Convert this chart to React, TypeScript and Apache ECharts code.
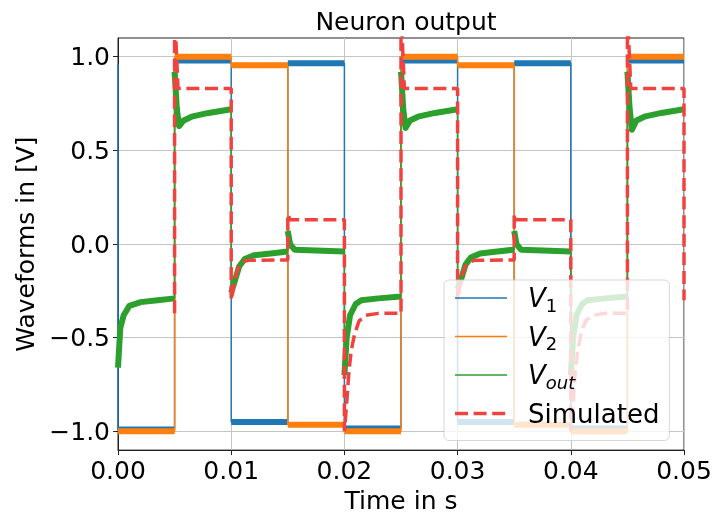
import React, { useEffect, useRef } from 'react';
import * as echarts from 'echarts';

const FONT = 'DejaVu Sans';

const xTicks = [0, 0.01, 0.02, 0.03, 0.04, 0.05];
const yTicks = [-1.0, -0.5, 0.0, 0.5, 1.0];
const seriesNames = ['V1', 'V2', 'Vout', 'Simulated'];

// [time (s), voltage (V)]
const v1: [number, number][] = [
  [0, 0.96], [0, -0.99], [0.005, -0.99], [0.005, 0.98], [0.01, 0.98], [0.01, -0.95],
  [0.015, -0.95], [0.015, 0.965], [0.02, 0.965], [0.02, -0.985], [0.025, -0.985], [0.025, 0.98],
  [0.03, 0.98], [0.03, -0.95], [0.035, -0.95], [0.035, 0.965], [0.04, 0.965], [0.04, -0.985],
  [0.045, -0.985], [0.045, 0.98], [0.05, 0.98],
];

const v2: [number, number][] = [
  [0, -1.0], [0.005, -1.0], [0.005, 1.0], [0.01, 1.0], [0.01, 0.955], [0.015, 0.955],
  [0.015, -0.965], [0.02, -0.965], [0.02, -1.0], [0.025, -1.0], [0.025, 1.0], [0.03, 1.0],
  [0.03, 0.955], [0.035, 0.955], [0.035, -0.965], [0.04, -0.965], [0.04, -1.0], [0.045, -1.0],
  [0.045, 1.0], [0.05, 1.0],
];

const vout: [number, number][] = [
  [0, -0.66], [0.0002, -0.45], [0.0005, -0.38], [0.001, -0.33], [0.002, -0.31], [0.0035, -0.3], [0.005, -0.29],
  [0.005, 0.92], [0.0052, 0.72], [0.0054, 0.63], [0.0058, 0.66], [0.0065, 0.68], [0.008, 0.7], [0.01, 0.72],
  [0.01, -0.26], [0.0103, -0.2], [0.0107, -0.12], [0.0112, -0.08], [0.012, -0.06], [0.0135, -0.05], [0.015, -0.04],
  [0.015, 0.07], [0.0152, 0.0], [0.0156, -0.03], [0.02, -0.04],
  [0.02, -0.7], [0.0202, -0.5], [0.0205, -0.38], [0.021, -0.32], [0.0215, -0.3], [0.023, -0.29], [0.025, -0.28],
  [0.025, 0.92], [0.0252, 0.72], [0.0254, 0.62], [0.0258, 0.66], [0.0265, 0.68], [0.028, 0.7], [0.03, 0.72],
  [0.03, -0.24], [0.0303, -0.19], [0.0307, -0.11], [0.0312, -0.07], [0.032, -0.05], [0.0335, -0.04], [0.035, -0.03],
  [0.035, 0.07], [0.0352, 0.0], [0.0356, -0.03], [0.04, -0.04],
  [0.04, -0.7], [0.0402, -0.5], [0.0405, -0.38], [0.041, -0.32], [0.0415, -0.3], [0.043, -0.29], [0.045, -0.28],
  [0.045, 0.92], [0.0452, 0.72], [0.0454, 0.61], [0.0458, 0.66], [0.0465, 0.68], [0.048, 0.7], [0.05, 0.72],
];

const simulated: [number, number][] = [
  [0.005, -0.37], [0.005, 1.25], [0.0053, 0.83], [0.01, 0.83],
  [0.01, -0.3], [0.0103, -0.2], [0.0106, -0.13], [0.011, -0.095], [0.0115, -0.087], [0.015, -0.085],
  [0.015, 0.16], [0.0152, 0.13], [0.02, 0.13],
  [0.02, -1.0], [0.0202, -0.85], [0.0204, -0.68], [0.0206, -0.57], [0.0209, -0.48], [0.0213, -0.41], [0.0219, -0.38], [0.023, -0.37], [0.025, -0.37],
  [0.025, 1.25], [0.0253, 0.83], [0.03, 0.83],
  [0.03, -0.3], [0.0303, -0.2], [0.0306, -0.13], [0.031, -0.095], [0.0315, -0.087], [0.035, -0.085],
  [0.035, 0.16], [0.0352, 0.13], [0.04, 0.13],
  [0.04, -1.0], [0.0402, -0.85], [0.0404, -0.68], [0.0406, -0.57], [0.0409, -0.48], [0.0413, -0.41], [0.0419, -0.38], [0.043, -0.37], [0.045, -0.37],
  [0.045, 1.25], [0.0453, 0.83], [0.05, 0.83], [0.05, -0.3],
];

const colors = { V1: '#1f77b4', V2: '#ff7f0e', Vout: '#2ca02c', Simulated: '#f0433f' };

// legend handles: a thin solid line and a thick dashed line inside a 52x4 box
const solidHandle = 'path://M0,0h0.05v0.05h-0.05z M0,1.2h52v1.6h-52z M51.95,3.95h0.05v0.05h-0.05z';
const dashedHandle = 'path://M0,0h0.05v0.05h-0.05z M0,0.25h13v3.5h-13z M18.6,0.25h13v3.5h-13z M37.2,0.25h13v3.5h-13z M51.95,3.95h0.05v0.05h-0.05z';

// break the line at vertical jumps so that only the noisy plateaus get a wide stroke
function band(pts: [number, number][]) {
  const out: any[] = [];
  pts.forEach((p, i) => {
    if (i > 0 && p[0] === pts[i - 1][0]) out.push([p[0], '-']);
    out.push(p);
  });
  return out;
}

export default function App() {
  const ref = useRef<HTMLDivElement>(null);
  useEffect(() => {
    if (!ref.current) return;
    const chart = echarts.init(ref.current, undefined, { renderer: 'svg' });
    const thin = (name: string, data: [number, number][]) => ({
      name, type: 'line', data, showSymbol: false, symbol: 'none',
      lineStyle: { color: (colors as any)[name], width: 1.5 }, itemStyle: { color: (colors as any)[name] },
      emphasis: { disabled: true }, silent: true,
    });
    const thick = (name: string, data: [number, number][]) => ({
      name: name + ' noise', type: 'line', data: band(data), showSymbol: false, symbol: 'none',
      connectNulls: false,
      lineStyle: { color: (colors as any)[name], width: 6, join: 'round' },
      emphasis: { disabled: true }, silent: true,
    });
    const option: any = {
      animation: false,
      textStyle: { fontFamily: FONT },
      title: {
        text: 'Neuron output', left: 401, top: 4, textAlign: 'center',
        textStyle: { fontFamily: FONT, fontSize: 25, fontWeight: 'normal', color: '#000' },
      },
      grid: { left: 118, top: 38, right: 31, bottom: 64, show: true, borderColor: '#222', borderWidth: 1, backgroundColor: 'transparent' },
      xAxis: {
        type: 'value', min: 0, max: 0.05,
        name: 'Time in s', nameLocation: 'middle', nameGap: 28,
        nameTextStyle: { fontFamily: FONT, fontSize: 25, color: '#000' },
        axisLine: { show: true, onZero: false, lineStyle: { color: '#222', width: 1 } },
        axisTick: { show: true, inside: false, length: 5, customValues: xTicks, lineStyle: { color: '#222' } },
        axisLabel: { customValues: xTicks, margin: 8, fontFamily: FONT, fontSize: 25, color: '#000', formatter: (v: number) => v.toFixed(2) },
        splitLine: { show: true, lineStyle: { color: '#c4c4c4', width: 1 } },
      },
      yAxis: {
        type: 'value', min: -1.1, max: 1.1,
        name: 'Waveforms in [V]', nameLocation: 'middle', nameGap: 76, nameRotate: 90,
        nameTextStyle: { fontFamily: FONT, fontSize: 25, color: '#000' },
        axisLine: { show: true, onZero: false, lineStyle: { color: '#222', width: 1 } },
        axisTick: { show: true, inside: false, length: 5, customValues: yTicks, lineStyle: { color: '#222' } },
        axisLabel: {
          customValues: yTicks, margin: 8, fontFamily: FONT, fontSize: 25, color: '#000',
          formatter: (v: number) => (v < 0 ? '\u2212' : '') + Math.abs(v).toFixed(1),
        },
        splitLine: { show: true, lineStyle: { color: '#c4c4c4', width: 1 } },
      },
      legend: {
        data: seriesNames.map((n) => ({ name: n, icon: n === 'Simulated' ? dashedHandle : solidHandle })),
        orient: 'vertical', left: 444, top: 280,
        padding: [5, 10, 14, 11], itemGap: 9.5, itemWidth: 52, itemHeight: 4,
        itemStyle: { borderWidth: 0 },
        backgroundColor: 'rgba(255,255,255,0.8)', borderColor: 'rgba(204,204,204,0.8)', borderWidth: 1, borderRadius: 5,
        formatter: (name: string) => {
          if (name === 'V1') return '{i|V}{s|1}';
          if (name === 'V2') return '{i|V}{s|2}';
          if (name === 'Vout') return '{i|V}{si|out}';
          return '{n|Simulated}';
        },
        textStyle: {
          padding: [0, 0, 0, 16], color: '#000', fontFamily: FONT,
          rich: {
            i: { fontFamily: FONT, fontSize: 26, fontStyle: 'italic', lineHeight: 32, verticalAlign: 'middle', color: '#000' },
            s: { fontFamily: FONT, fontSize: 18, lineHeight: 32, verticalAlign: 'bottom', color: '#000' },
            si: { fontFamily: FONT, fontSize: 18, fontStyle: 'italic', lineHeight: 32, verticalAlign: 'bottom', color: '#000' },
            n: { fontFamily: FONT, fontSize: 26, lineHeight: 32, verticalAlign: 'middle', color: '#000' },
          },
        },
      },
      series: [
        thin('V1', v1), thick('V1', v1),
        thin('V2', v2), thick('V2', v2),
        thin('Vout', vout), thick('Vout', vout),
        {
          name: 'Simulated', type: 'line', data: simulated, showSymbol: false, symbol: 'none',
          lineStyle: { color: colors.Simulated, width: 3.5, type: [13, 5.6] },
          itemStyle: { color: colors.Simulated }, emphasis: { disabled: true }, silent: true,
        },
      ],
    };
    chart.setOption(option);
    return () => chart.dispose();
  }, []);
  return <div ref={ref} style={{ position: 'fixed', left: 0, top: 0, width: 715, height: 518 }} />;
}
